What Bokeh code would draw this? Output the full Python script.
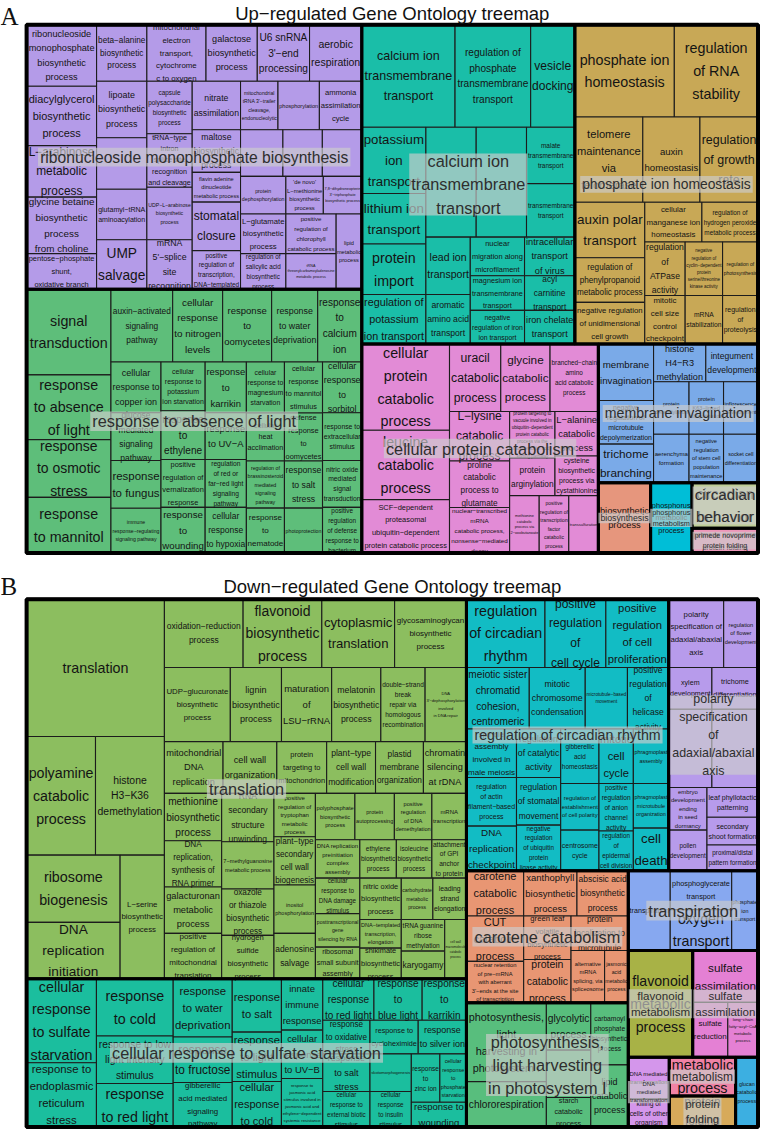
from bokeh.plotting import figure
from bokeh.models import Range1d, ColumnDataSource
from bokeh.embed import file_html
from bokeh.resources import INLINE
from bokeh.core.properties import value, field

# ======================= DATA : panel A (up-regulated) =======================
A_title = "Up−regulated Gene Ontology treemap"
A_group_names = [
    "ribonucleoside monophosphate biosynthesis",
    "response to absence of light",
    "calcium ion\ntransmembrane\ntransport",
    "phosphate ion homeostasis",
    "cellular protein catabolism",
    "membrane invagination",
    "biosynthesis",
    "phosphorus\nmetabolism",
    "circadian\nbehavior",
    "primede novoprime\nprotein folding",
]
A_group_colors = ["#B49BE8", "#5EBE7A", "#1ABEA8", "#C8A856", "#E28BD6",
                  "#7AAAE8", "#E6967D", "#00BED7", "#BECD96", "#EE96B9"]
A_terms = [
    ["ribonucleoside monophosphate biosynthetic process", "diacylglycerol biosynthetic process",
     "L−arabinose metabolic process", "glycine betaine biosynthetic process from choline",
     "pentose−phosphate shunt, oxidative branch", "beta−alanine biosynthetic process",
     "mitochondrial electron transport, cytochrome c to oxygen", "galactose biosynthetic process",
     "U6 snRNA 3'−end processing", "aerobic respiration", "lipoate biosynthetic process", "",
     "glutamyl−tRNA aminoacylation", "UMP salvage", "capsule polysaccharide biosynthetic process",
     "tRNA−type intron splice site recognition and cleavage", "UDP−L−arabinose biosynthetic process",
     "mRNA 5'−splice site recognition", "nitrate assimilation",
     "mitochondrial tRNA 3'−trailer cleavage, endonucleolytic", "phosphorylation",
     "ammonia assimilation cycle", "maltose biosynthetic process",
     "flavin adenine dinucleotide metabolic process", "stomatal closure",
     "positive regulation of transcription, DNA−templated", "", "", "",
     "protein dephosphorylation", "'de novo' L−methionine biosynthetic process",
     "7,8−dihydroneopterin 3'−triphosphate biosynthetic process", "L−glutamate biosynthetic process",
     "regulation of salicylic acid biosynthetic process",
     "positive regulation of chlorophyll catabolic process",
     "tRNA threonylcarbamoyladenosine metabolic process", "lipid metabolic process"],
    ["signal transduction", "response to absence of light", "response to osmotic stress",
     "response to mannitol", "auxin−activated signaling pathway", "cellular response to nitrogen levels",
     "response to oomycetes", "response to water deprivation", "response to calcium ion",
     "cellular response to copper ion", "glucose mediated signaling pathway", "response to fungus",
     "immune response−regulating signaling pathway", "cellular response to potassium ion starvation",
     "response to ethylene", "positive regulation of vernalization response", "response to wounding",
     "response to karrikin", "response to UV−A", "regulation of red or far−red light signaling pathway",
     "cellular response to hypoxia", "cellular response to magnesium starvation",
     "cellular heat acclimation", "regulation of brassinosteroid mediated signaling pathway",
     "response to nematode", "cellular response to mannitol stimulus", "defense response to oomycetes",
     "response to salt stress", "photoprotection", "cellular response to sorbitol",
     "response to extracellular stimulus", "nitric oxide mediated signal transduction",
     "positive regulation of defense response to bacterium"],
    ["calcium ion transmembrane transport", "regulation of phosphate transmembrane transport",
     "vesicle docking", "potassium ion transport", "lithium ion transport", "protein import",
     "regulation of potassium ion transport", "", "", "malate transmembrane transport",
     "transmembrane transport", "lead ion transport", "aromatic amino acid transport",
     "nuclear migration along microfilament", "magnesium ion transmembrane transport",
     "negative regulation of iron ion transport", "intracellular transport of virus",
     "acyl carnitine transport", "iron chelate transport"],
    ["phosphate ion homeostasis", "regulation of RNA stability", "telomere maintenance via telomerase",
     "auxin homeostasis", "regulation of growth rate", "auxin polar transport",
     "regulation of phenylpropanoid metabolic process", "negative regulation of unidimensional cell growth",
     "cellular manganese ion homeostasis", "regulation of hydrogen peroxide metabolic process",
     "regulation of ATPase activity", "mitotic cell size control checkpoint",
     "negative regulation of cyclin−dependent protein serine/threonine kinase activity",
     "mRNA stabilization", "regulation of photosynthesis", "regulation of proteolysis"],
    ["cellular protein catabolic process", "leucine catabolic process",
     "SCF−dependent proteasomal ubiquitin−dependent protein catabolic process",
     "uracil catabolic process", "glycine catabolic process", "branched−chain amino acid catabolic process",
     "L−lysine catabolic process", "proline catabolic process to glutamate",
     "nuclear−transcribed mRNA catabolic process, nonsense−mediated decay",
     "protein targeting to vacuole involved in ubiquitin−dependent protein catabolic process via the multivesicular body sorting pathway",
     "protein arginylation", "L−alanine catabolic process", "cysteine biosynthetic process via cystathionine",
     "methionine catabolic process via 2−oxobutanoate",
     "positive regulation of transcription factor catabolic process", "transsulfuration"],
    ["membrane invagination", "negative regulation of microtubule depolymerization", "trichome branching",
     "histone H4−R3 methylation", "integument development", "protein deneddylation",
     "protein K63−linked ubiquitination", "inflorescence development", "aerenchyma formation",
     "negative regulation of stem cell population maintenance", "socket cell differentiation"],
    ["biosynthetic process"],
    ["phosphorus metabolic process"],
    ["circadian behavior"],
    ["primede novoprime protein folding"],
]
A_sizes = [
    [4402, 4260, 3692, 4047, 2556, 2907, 3420, 2964, 3021, 3021, 2907, 2652, 2601, 2550, 2438, 2484,
     2438, 2300, 2401, 1862, 2058, 2107, 2107, 1470, 2401, 1911, 2021, 1880, 1880, 1748, 1444, 1482,
     1840, 1656, 2040, 1836, 1976],
    [7396, 5590, 4988, 4816, 4599, 3723, 3650, 3431, 3285, 2601, 2448, 2448, 2295, 2205, 2205, 2160,
     2070, 2142, 1974, 2016, 1932, 1989, 1872, 1833, 1755, 1989, 1872, 1833, 1755, 2040, 1920, 1880, 1840],
    [9785, 7931, 4635, 4355, 3315, 3315, 3250, 5661, 5661, 2793, 2646, 2610, 2250, 2145, 1925, 1870,
     1989, 1785, 1734],
    [9393, 7905, 5934, 4988, 5074, 3976, 3195, 2982, 2320, 2280, 2214, 2009, 2052, 1862, 1944, 1764],
    [7743, 6230, 4806, 3536, 3400, 3332, 3050, 2867, 2806, 2162, 1748, 1980, 1760, 1740, 1740, 1740],
    [3192, 2464, 2184, 2014, 2014, 1908, 1855, 1855, 1764, 1715, 1715],
    [3763],
    [2982],
    [3082],
    [1675],
]
# slicing structure ("H" = side by side, "V" = stacked); leaves are indices
A_trees = [
    ["H", ["V", 0, 1, 2, 3, 4],
          ["V", ["H", 5, 6, 7, 8, 9],
                ["H", ["V", 10, 11, 12, 13], ["V", 14, 15, 16, 17],
                      ["V", ["H", 18, 19, 20, 21],
                            ["H", ["V", 22, 23, 24, 25],
                                  ["V", ["H", 26, 27, 28], ["H", 29, 30, 31],
                                        ["H", ["V", 32, 33], ["V", 34, 35], 36]]]]]]],
    ["H", ["V", 0, 1, 2, 3],
          ["V", ["H", 4, 5, 6, 7, 8],
                ["H", ["V", 9, 10, 11, 12], ["V", 13, 14, 15, 16], ["V", 17, 18, 19, 20],
                      ["V", 21, 22, 23, 24], ["V", 25, 26, 27, 28], ["V", 29, 30, 31, 32]]]],
    ["V", ["H", 0, 1, 2],
          ["H", ["V", 3, 4, 5, 6],
                ["V", ["H", 7, 8, ["V", 9, 10]],
                      ["H", ["V", 11, 12], ["V", 13, 14, 15], ["V", 16, 17, 18]]]]],
    ["V", ["H", 0, 1], ["H", 2, 3, 4],
          ["H", ["V", 5, 6, 7],
                ["V", ["H", 8, 9], ["H", ["V", 10, 11], ["V", 12, 13], ["V", 14, 15]]]]],
    ["H", ["V", 0, 1, 2],
          ["V", ["H", 3, 4, 5],
                ["H", ["V", 6, 7, 8],
                      ["V", ["H", ["V", 9, 10], ["V", 11, 12]], ["H", 13, 14, 15]]]]],
    ["H", ["V", 0, 1, 2], ["V", ["H", 3, 4], ["H", 5, 6, 7], ["H", 8, 9, 10]]],
    0, 0, 0, 0,
]
A_layout = ["H", ["V", 0, 1], ["V", ["H", 2, 3], ["H", 4, ["V", 5, ["H", 6, 7, ["V", 8, 9]]]]]]

# ======================= DATA : panel B (down-regulated) =======================
B_title = "Down−regulated Gene Ontology treemap"
B_group_names = [
    "translation",
    "cellular response to sulfate starvation",
    "regulation of circadian rhythm",
    "polarity\nspecification\nof\nadaxial/abaxial\naxis",
    "carotene catabolism",
    "transpiration",
    "flavonoid\nmetabolism",
    "sulfate\nassimilation",
    "DNA\nmediated\ntransformation",
    "metabolism",
    "protein\nfolding",
    "",
    "photosynthesis,\nlight harvesting\nin photosystem I",
]
B_group_colors = ["#8CBE5F", "#1BBE9E", "#12BCC4", "#B79BEB", "#E89673", "#87A8F0", "#A8B246",
                  "#E480D4", "#D496EB", "#F082A5", "#D7AA5A", "#3CAFE1", "#58BE7D"]
B_terms = [
    ["translation", "polyamine catabolic process", "histone H3−K36 demethylation", "ribosome biogenesis",
     "DNA replication initiation", "L−serine biosynthetic process", "oxidation−reduction process",
     "flavonoid biosynthetic process", "cytoplasmic translation", "glycosaminoglycan biosynthetic process",
     "UDP−glucuronate biosynthetic process", "lignin biosynthetic process", "maturation of LSU−rRNA",
     "melatonin biosynthetic process", "double−strand break repair via homologous recombination",
     "DNA 3'−dephosphorylation involved in DNA repair", "mitochondrial DNA replication",
     "cell wall organization", "protein targeting to mitochondrion", "plant−type cell wall modification",
     "plastid membrane organization", "chromatin silencing at rDNA", "methionine biosynthetic process",
     "DNA replication, synthesis of RNA primer", "galacturonan metabolic process",
     "positive regulation of mitochondrial translation", "RNA secondary structure unwinding",
     "7−methylguanosine metabolic process", "oxazole or thiazole biosynthetic process",
     "hydrogen sulfide biosynthetic process", "positive regulation of tryptophan metabolic process",
     "plant−type secondary cell wall biogenesis", "inositol phosphorylation", "adenosine salvage",
     "polyphosphate biosynthetic process", "protein autoprocessing",
     "positive regulation of DNA demethylation", "mRNA transcription",
     "DNA replication preinitiation complex assembly", "ethylene biosynthetic process",
     "isoleucine biosynthetic process", "attachment of GPI anchor to protein",
     "cellular response to DNA damage stimulus", "posttranscriptional gene silencing by RNA",
     "ribosomal small subunit assembly", "nitric oxide biosynthetic process",
     "DNA−templated transcription, elongation", "shikimate biosynthetic process",
     "carbohydrate metabolic process", "leading strand elongation", "tRNA guanine ribose methylation",
     "karyogamy", "cell wall macromolecule catabolic process"],
    ["cellular response to sulfate starvation", "response to endoplasmic reticulum stress",
     "response to cold", "response to low light intensity stimulus", "response to red light",
     "response to water deprivation", "response to fructose", "gibberellic acid mediated signaling pathway",
     "response to salt", "response to light stimulus", "cellular response to cold",
     "innate immune response", "cellular response to UV−B",
     "response to jasmonic acid stimulus involved in jasmonic acid and ethylene−dependent systemic resistance",
     "cellular response to red light", "response to blue light", "response to karrikin",
     "response to oxidative stress", "response to cycloheximide", "response to silver ion",
     "response to salt stress", "cellular response to external biotic stimulus", "skotomorphogenesis",
     "cellular response to insulin stimulus", "response to zinc ion",
     "cellular response to phosphate starvation", "response to wounding"],
    ["regulation of circadian rhythm", "positive regulation of cell cycle",
     "positive regulation of cell proliferation", "meiotic sister chromatid cohesion, centromeric",
     "mitotic chromosome condensation", "microtubule−based movement",
     "positive regulation of helicase activity", "spindle assembly involved in male meiosis",
     "regulation of actin filament−based process", "DNA replication checkpoint",
     "regulation of catalytic activity", "regulation of stomatal movement",
     "negative regulation of ubiquitin protein ligase activity", "gibberellic acid homeostasis",
     "regulation of establishment of cell polarity", "centrosome cycle", "mitotic cell cycle",
     "positive regulation of anion channel activity", "regulation of epidermal cell division",
     "phragmoplast assembly", "phragmoplast microtubule organization", "cell death"],
    ["polarity specification of adaxial/abaxial axis", "regulation of flower development",
     "xylem development", "trichome differentiation", "", "",
     "embryo development ending in seed dormancy", "pollen development", "leaf phyllotactic patterning",
     "secondary shoot formation", "proximal/distal pattern formation"],
    ["carotene catabolic process", "xanthophyll biosynthetic process", "abscisic acid biosynthetic process",
     "CUT catabolic process",
     "nuclear retention of pre−mRNA with aberrant 3'−ends at the site of transcription",
     "green leaf volatile biosynthetic process", "protein catabolic process",
     "protein localization to microtubule", "alternative mRNA splicing, via spliceosome",
     "jasmonic acid metabolic process"],
    ["transpiration", "phosphoglycerate transport", "oxygen transport", "phosphate ion transport"],
    ["flavonoid metabolic process"],
    ["sulfate assimilation", "sulfate reduction", "long−chain fatty−acyl−CoA metabolic process"],
    ["DNA mediated transformation", "killing of cells of other organism"],
    ["metabolic process"],
    ["protein folding"],
    ["glucan catabolic process"],
    ["photosynthesis, light harvesting in photosystem I", "chlororespiration", "glycolytic process", "",
     "starch catabolic process", "carbamoyl phosphate biosynthetic process", "lipid catabolic process"],
]
B_sizes = [
    [19460, 8400, 8400, 6460, 5415, 5625, 5520, 5520, 5106, 5037, 5025, 3900, 3825, 3750, 3375, 3150,
     3120, 2860, 2652, 2600, 2548, 2288, 2784, 2726, 2726, 2668, 2597, 2544, 2491, 2332, 1848, 2058,
     2058, 1932, 1880, 1880, 1786, 1645, 1755, 1443, 1404, 1365, 1620, 1530, 1440, 1764, 1218, 1302,
     1344, 1428, 1408, 1232, 1320],
    [6035, 4615, 4524, 3744, 3432, 3540, 2760, 2700, 2700, 2500, 2300, 2184, 2058, 2058, 2184, 2058,
     1890, 1632, 1666, 1666, 1824, 1728, 1596, 1512, 1421, 1323, 1400],
    [5520, 4278, 4416, 3968, 3534, 2666, 2604, 2499, 2499, 2295, 2205, 2160, 2070, 2145, 1833, 1599,
     1925, 1680, 1400, 1980, 1620, 1548],
    [3864, 2415, 1848, 1974, 3476, 3713, 1677, 1599, 1560, 1456, 1352],
    [2668, 2484, 2392, 2668, 2436, 2112, 2112, 2030, 1802, 1272],
    [3440, 2457, 2583, 2160],
    [7062],
    [3484, 1980, 1705],
    [1764, 1176],
    [2652],
    [2108],
    [1610],
    [6480, 3726, 2160, 2160, 1350, 2394, 2394],
]
B_trees = [
    ["H", ["V", 0, ["H", 1, 2], ["H", ["V", 3, 4], 5]],
          ["V", ["H", 6, 7, 8, 9], ["H", 10, 11, 12, 13, 14, 15], ["H", 16, 17, 18, 19, 20, 21],
                ["H", ["V", 22, 23, 24, 25], ["V", 26, 27, 28, 29], ["V", 30, 31, 32, 33],
                      ["V", ["H", 34, 35, 36, 37], ["H", 38, 39, 40, 41],
                            ["H", ["V", 42, 43, 44], ["V", 45, 46, 47],
                                  ["V", ["H", 48, 49], ["H", ["V", 50, 51], 52]]]]]]],
    ["H", ["V", 0, 1], ["V", 2, 3, 4], ["V", 5, 6, 7], ["V", 8, 9, 10], ["V", 11, 12, 13],
          ["V", ["H", 14, 15, 16], ["H", 17, 18, 19],
                ["H", ["V", 20, 21], ["V", 22, 23], ["V", ["H", 24, 25], 26]]]],
    ["V", ["H", 0, 1, 2], ["H", 3, 4, 5, 6],
          ["H", ["V", 7, 8, 9], ["V", 10, 11, 12], ["V", 13, 14, 15], ["V", 16, 17, 18], ["V", 19, 20, 21]]],
    ["V", ["H", 0, 1], ["H", 2, 3], ["H", 4, 5], ["H", ["V", 6, 7], ["V", 8, 9, 10]]],
    ["V", ["H", 0, 1, 2], ["H", ["V", 3, 4], ["V", 5, 6], ["V", 7, ["H", 8, 9]]]],
    ["H", 0, ["V", 1, 2], 3],
    0,
    ["V", 0, ["H", 1, 2]],
    ["V", 0, 1],
    0, 0, 0,
    ["H", ["V", 0, 1], ["H", ["V", 2, 3, 4], ["V", 5, 6]]],
]
B_layout = ["H", ["V", 0, 1],
                 ["V", ["H", 2, 3],
                       ["H", ["V", 4, 12], ["V", 5, ["H", 6, 7], ["H", 8, ["V", 9, 10], 11]]]]]

# ======================= layout helpers =======================
CW = {}
for chars, w in [("ijl", 222), ("ftI/ :,.!", 278), ("'", 191), ("r()-", 333),
                 ("ckvxyzsJ", 500), ("abdeghnopqu0123456789", 556), ("−", 584),
                 ("FTZ", 611), ("ABEKPSVXY", 667), ("CDHNRUw", 722), ("GOQ", 778),
                 ("mM", 833), ("W", 944)]:
    for ch in chars:
        CW[ch] = w


def tw(s):
    return sum(CW.get(ch, 556) for ch in s) / 1000.0


def node_size(node, sizes):
    if isinstance(node, int):
        return sizes[node]
    return sum(node_size(c, sizes) for c in node[1:])


def slice_layout(node, rect, sizes, out):
    x0, y0, x1, y1 = rect
    if isinstance(node, int):
        out[node] = rect
        return
    kids = node[1:]
    total = float(sum(node_size(k, sizes) for k in kids))
    pos = x0 if node[0] == "H" else y0
    for k in kids:
        frac = node_size(k, sizes) / total
        if node[0] == "H":
            step = (x1 - x0) * frac
            slice_layout(k, (pos, y0, pos + step, y1), sizes, out)
        else:
            step = (y1 - y0) * frac
            slice_layout(k, (x0, pos, x1, pos + step), sizes, out)
        pos += step


LEAF_LH = 1.42
GROUP_LH = 1.3

# canvas / coordinate system (data units = reference page pixels)
W, H = 760, 1129
XR = (4.0, 776.0)
YR = (6.0, 1145.0)
SX = W / (XR[1] - XR[0])
SY = H / (YR[1] - YR[0])


def fit_label(label, w, h, maxfs):
    words = label.split(" ")
    m = len(words)
    ww = [tw(x) for x in words]
    sp = tw(" ")

    def seg(i, j):
        return sum(ww[i:j]) + sp * (j - i - 1)

    best = None
    for n in range(1, min(m, 10) + 1):
        INF = 1e9
        f = [[INF] * (m + 1) for _ in range(n + 1)]
        arg = [[0] * (m + 1) for _ in range(n + 1)]
        f[0][0] = 0.0
        for k in range(1, n + 1):
            for j in range(k, m + 1):
                for i in range(k - 1, j):
                    v = max(f[k - 1][i], seg(i, j))
                    if v < f[k][j]:
                        f[k][j] = v
                        arg[k][j] = i
        mw = f[n][m]
        fs = min(maxfs, (w * 0.94) / mw, (h * 0.93) / (1 + (n - 1) * LEAF_LH))
        if best is None or fs > best[0] * 1.03:
            lines = []
            j = m
            for k in range(n, 0, -1):
                i = arg[k][j]
                lines.append(" ".join(words[i:j]))
                j = i
            best = (fs, "\n".join(reversed(lines)))
    return best


def draw_panel(p, rect, layout, names, colors, terms, sizes, trees):
    totals = [sum(s) for s in sizes]
    grects = {}
    slice_layout(layout, rect, totals, grects)
    q = dict(l=[], r=[], t=[], b=[], c=[])
    lab = dict(x=[], y=[], text=[], fs=[])
    for g in range(len(names)):
        cells = {}
        slice_layout(trees[g], grects[g], sizes[g], cells)
        for i, (x0, y0, x1, y1) in cells.items():
            q["l"].append(x0); q["r"].append(x1); q["t"].append(y0); q["b"].append(y1)
            q["c"].append(colors[g])
            if terms[g][i]:
                fs, txt = fit_label(terms[g][i], (x1 - x0) * SX, (y1 - y0) * SY, 14.3)
                lab["x"].append((x0 + x1) / 2); lab["y"].append((y0 + y1) / 2)
                lab["text"].append(txt); lab["fs"].append("%.2fpx" % fs)
    p.quad(left="l", right="r", top="t", bottom="b", fill_color="c", line_color="#1c1c1c",
           line_width=1.1, source=ColumnDataSource(q))
    p.text(x="x", y="y", text="text", text_font_size=field("fs"), source=ColumnDataSource(lab),
           text_font=value("Liberation Sans"), text_align="center", text_baseline="middle",
           text_color="#141414", text_line_height=LEAF_LH)
    gb = dict(l=[], r=[], t=[], b=[])
    box = dict(l=[], r=[], t=[], b=[])
    gl = dict(x=[], y=[], text=[], fs=[])
    for g in range(len(names)):
        x0, y0, x1, y1 = grects[g]
        gb["l"].append(x0); gb["r"].append(x1); gb["t"].append(y0); gb["b"].append(y1)
        if not names[g]:
            continue
        lines = names[g].split("\n")
        n = len(lines)
        mw = max(tw(s) for s in lines)
        wpx, hpx = (x1 - x0) * SX, (y1 - y0) * SY
        fs = min(16.3, 0.92 * wpx / mw, 0.9 * hpx / (1.2 + (n - 1) * GROUP_LH))
        cx, cy = (x0 + x1) / 2, (y0 + y1) / 2
        bw = (mw * fs + 4) / SX
        bh = fs * (1.2 + (n - 1) * GROUP_LH) / SY
        box["l"].append(cx - bw / 2); box["r"].append(cx + bw / 2)
        box["t"].append(cy - bh / 2); box["b"].append(cy + bh / 2)
        gl["x"].append(cx); gl["y"].append(cy); gl["text"].append(names[g]); gl["fs"].append("%.2fpx" % fs)
    p.quad(left="l", right="r", top="t", bottom="b", fill_color=None, line_color="black",
           line_width=3, source=ColumnDataSource(gb))
    p.quad(left="l", right="r", top="t", bottom="b", fill_color="#CCCCCC", fill_alpha=0.67,
           line_color=None, source=ColumnDataSource(box))
    p.text(x="x", y="y", text="text", text_font_size=field("fs"), source=ColumnDataSource(gl),
           text_font=value("Liberation Sans"), text_align="center", text_baseline="middle",
           text_color="#2e2e2e", text_line_height=GROUP_LH)
    x0, y0, x1, y1 = rect
    p.quad(left=[x0], right=[x1], top=[y0], bottom=[y1], fill_color=None, line_color="black",
           line_width=4)


p = figure(width=W, height=H, x_range=Range1d(XR[0], XR[1]), y_range=Range1d(YR[1], YR[0]),
           output_backend="svg", toolbar_location=None, min_border=0,
           x_axis_type=None, y_axis_type=None)
p.grid.visible = False
p.outline_line_color = None
p.background_fill_color = "white"

A_rect = (30.5, 30.5, 773.5, 563.5)
B_rect = (30.5, 610.0, 773.5, 1142.5)
draw_panel(p, A_rect, A_layout, A_group_names, A_group_colors, A_terms, A_sizes, A_trees)
draw_panel(p, B_rect, B_layout, B_group_names, B_group_colors, B_terms, B_sizes, B_trees)

cx = (A_rect[0] + A_rect[2]) / 2
p.text(x=[cx], y=[19.5], text=[A_title], text_font=value("Liberation Sans"), text_font_size="18.5px",
       text_align="center", text_baseline="alphabetic", text_color="#111111")
p.text(x=[cx], y=[597], text=[B_title], text_font=value("Liberation Sans"), text_font_size="18.5px",
       text_align="center", text_baseline="alphabetic", text_color="#111111")
p.text(x=[4], y=[22.5], text=["A"], text_font=value("Liberation Serif"), text_font_size="25px",
       text_align="left", text_baseline="alphabetic", text_color="#111111")
p.text(x=[4], y=[597], text=["B"], text_font=value("Liberation Serif"), text_font_size="25px",
       text_align="left", text_baseline="alphabetic", text_color="#111111")

open("out.html", "w", encoding="utf-8").write(file_html(p, INLINE))
